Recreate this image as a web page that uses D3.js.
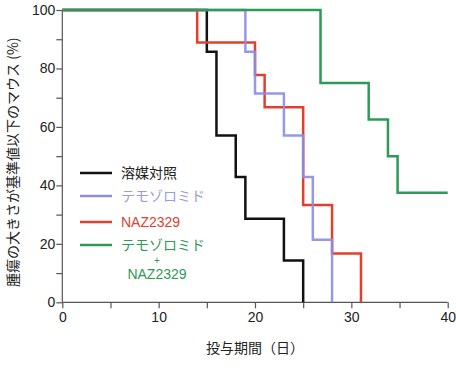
<!DOCTYPE html>
<html>
<head>
<meta charset="utf-8">
<script src="https://cdn.jsdelivr.net/npm/d3@7"></script>
<style>
  body { margin: 0; background: #fff; }
  svg text { font-family: "Liberation Sans", Arial, "Noto Sans CJK JP", sans-serif; }
  .jp { font-family: "Noto Sans CJK JP", sans-serif; }
</style>
</head>
<body>
<svg id="chart" width="456" height="375"></svg>
<script>
// Kaplan-Meier style step data (day, % of mice below threshold)
const vehicleDays = [0, 15, 16, 18, 19, 23, 25];
const vehicleVals = [100, 85.7, 57.1, 42.9, 28.6, 14.3, 0];
const temoDays = [0, 19, 20, 23, 25, 26, 28];
const temoVals = [100, 85.7, 71.4, 57.1, 42.9, 21.4, 0];
const nazDays = [0, 14, 20, 21, 25, 28, 31];
const nazVals = [100, 88.9, 77.8, 66.7, 33.3, 16.7, 0];
const comboDays = [0, 26.8, 31.8, 33.8, 34.8, 40];
const comboVals = [100, 75, 62.5, 50, 37.5, 37.5];

const xTicks = [0, 10, 20, 30, 40];
const yTicks = [0, 20, 40, 60, 80, 100];

const TEXT = "#222";
const AXIS = "#555";

const series = [
  { name: "溶媒対照", days: vehicleDays, vals: vehicleVals, color: "#111111" },
  { name: "NAZ2329", days: nazDays, vals: nazVals, color: "#e2402c" },
  { name: "テモゾロミド", days: temoDays, vals: temoVals, color: "#8b8de4", opacity: 0.9 },
  { name: "テモゾロミド", days: comboDays, vals: comboVals, color: "#2e9a58" },
];

const svg = d3.select("#chart");
const margin = { top: 10, left: 62.3, right: 8.3, bottom: 72.7 };
const width = 456, height = 375;

const x = d3.scaleLinear().domain([0, 40]).range([margin.left, width - margin.right]);
const y = d3.scaleLinear().domain([0, 100]).range([height - margin.bottom, margin.top]);

// Axes
const xAxis = svg.append("g")
  .attr("transform", `translate(0,${y(0)})`)
  .call(d3.axisBottom(x).tickValues(d3.range(0, 41, 5)).tickSize(6)
    .tickFormat(d => xTicks.includes(d) ? d : ""));
const yAxis = svg.append("g")
  .attr("transform", `translate(${x(0)},0)`)
  .call(d3.axisLeft(y).tickValues(d3.range(0, 101, 10)).tickSize(6)
    .tickFormat(d => yTicks.includes(d) ? d : ""));

[xAxis, yAxis].forEach(a => {
  a.select(".domain").attr("stroke", AXIS).attr("stroke-width", 1.2);
  a.selectAll(".tick line").attr("stroke", AXIS).attr("stroke-width", 1.2);
  a.selectAll(".tick text").attr("fill", TEXT).attr("font-size", 14)
    .attr("font-family", "'Liberation Sans', Arial, sans-serif");
});
xAxis.select(".domain").attr("d", `M${x(0)},0H${x(40)}`);
yAxis.select(".domain").attr("d", `M0,${y(0)}V${y(100)}`);
xAxis.selectAll(".tick text").attr("dy", "0.9em").attr("y", 7);
yAxis.selectAll(".tick text").attr("x", -7);

// Axis titles
svg.append("text")
  .attr("class", "jp")
  .attr("x", 255).attr("y", 353)
  .attr("text-anchor", "middle")
  .attr("font-size", 14)
  .attr("fill", TEXT)
  .text("投与期間（日）");

svg.append("text")
  .attr("class", "jp")
  .attr("transform", `translate(18,${y(50) + 6}) rotate(-90)`)
  .attr("text-anchor", "middle")
  .attr("font-size", 14)
  .attr("fill", TEXT)
  .text("腫瘍の大きさが基準値以下のマウス (%)");

// Step curves
const line = d3.line()
  .x(d => x(d[0]))
  .y(d => y(d[1]))
  .curve(d3.curveStepAfter);

series.forEach(s => {
  const pts = s.days.map((d, i) => [d, s.vals[i]]);
  svg.append("path")
    .datum(pts)
    .attr("fill", "none")
    .attr("stroke", s.color)
    .attr("stroke-width", 2.5)
    .attr("stroke-opacity", s.opacity || 1)
    .attr("d", line);
});

// Legend
const legend = [
  { label: "溶媒対照", color: "#111111", textColor: "#222", y: 173 },
  { label: "テモゾロミド", color: "#8b8de4", textColor: "#9a9ce0", y: 196 },
  { label: "NAZ2329", color: "#e2402c", textColor: "#e2402c", y: 222 },
  { label: "テモゾロミド", color: "#2e9a58", textColor: "#2e9a58", y: 245 },
];
const lg = svg.append("g");
legend.forEach(l => {
  lg.append("line")
    .attr("x1", 80).attr("x2", 112)
    .attr("y1", l.y).attr("y2", l.y)
    .attr("stroke", l.color).attr("stroke-width", 2.5);
  lg.append("text")
    .attr("class", l.label === "NAZ2329" ? "" : "jp")
    .attr("x", 121).attr("y", l.y + 5)
    .attr("font-size", 14)
    .attr("fill", l.textColor)
    .text(l.label);
});
lg.append("text")
  .attr("x", 157).attr("y", 264)
  .attr("text-anchor", "middle")
  .attr("font-size", 10)
  .attr("fill", "#2e9a58")
  .text("+");
lg.append("text")
  .attr("x", 157).attr("y", 279)
  .attr("text-anchor", "middle")
  .attr("font-size", 14)
  .attr("fill", "#2e9a58")
  .text("NAZ2329");
</script>
</body>
</html>
